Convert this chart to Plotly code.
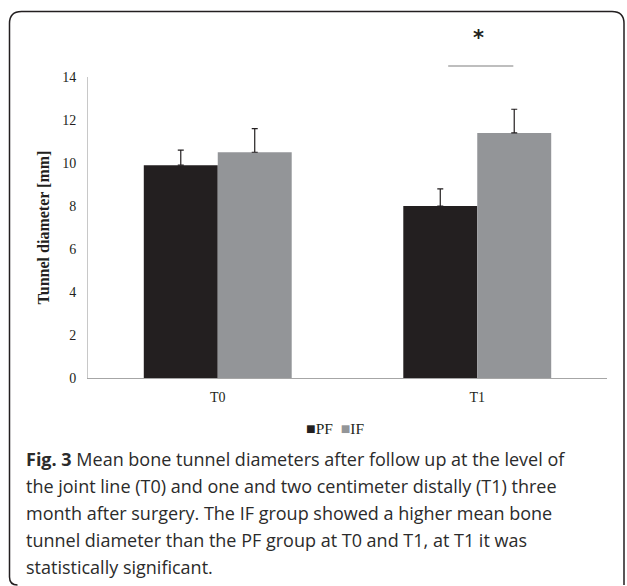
import plotly.graph_objects as go

# ---- data ----
categories = ["T0", "T1"]
series_names = ["PF", "IF"]
pf_mean = [9.9, 8.0]
pf_err = [0.7, 0.8]
if_mean = [10.5, 11.4]
if_err = [1.1, 1.1]
y_ticks = [0, 2, 4, 6, 8, 10, 12, 14]
sig_label = "*"
y_title = "Tunnel diameter [mm]"
caption_lines = [
    "<b>Fig. 3</b> Mean bone tunnel diameters after follow up at the level of",
    "the joint line (T0) and one and two centimeter distally (T1) three",
    "month after surgery. The IF group showed a higher mean bone",
    "tunnel diameter than the PF group at T0 and T1, at T1 it was",
    "statistically significant.",
]

# ---- layout geometry (pixels) ----
W, H = 627, 586
L, R, T, B = 88, 20, 77, 208
pw, ph = W - L - R, H - T - B
YMAX = 14


def px(x):
    return (x - L) / pw


def py(y):
    return (H - B - y) / ph


serif = "Liberation Serif, Times New Roman, serif"
dark = "#231f20"
grey = "#939598"
colors = [dark, grey]

fig = go.Figure()
for name, vals, errs, col in zip(series_names, [pf_mean, if_mean], [pf_err, if_err], colors):
    fig.add_trace(go.Bar(
        x=categories, y=vals, name=name,
        marker=dict(color=col, line=dict(width=0)),
        error_y=dict(type="data", symmetric=False, array=errs,
                     arrayminus=[0] * len(errs), color=dark, thickness=1.2, width=3),
    ))

fig.update_layout(
    width=W, height=H,
    margin=dict(l=L, r=R, t=T, b=B, pad=0),
    paper_bgcolor="white", plot_bgcolor="white",
    barmode="group", bargap=0.43, bargroupgap=0,
    font=dict(family=serif, size=14, color=dark),
    showlegend=False,
    xaxis=dict(showline=True, linecolor="#a6a6a6", linewidth=1, showgrid=False,
               ticks="", ticklabelstandoff=6, zeroline=False,
               tickfont=dict(family=serif, size=14, color=dark)),
    yaxis=dict(range=[0, YMAX], tickvals=y_ticks, showline=True, linecolor="#c8c8c8",
               linewidth=1, showgrid=False, ticks="", ticklabelstandoff=8,
               zeroline=False,
               tickfont=dict(family=serif, size=14, color=dark),
               title=dict(text=f"<b>{y_title}</b>", standoff=8,
                          font=dict(family=serif, size=16, color=dark))),
)

# significance bar (category-axis positions) and asterisk
sig_y = py(66)
fig.add_shape(type="line", xref="x", yref="paper",
              x0=0.888, x1=1.139, y0=sig_y, y1=sig_y,
              line=dict(color="#a8a8a8", width=1.5))
fig.add_annotation(x=1.005, y=py(24), xref="x", yref="paper",
                   text=f"<b>{sig_label}</b>", showarrow=False,
                   font=dict(family="DejaVu Sans", size=21, color=dark))

# legend (compact, as in the reference)
legend_text = "&nbsp;&nbsp;".join(
    f"<span style='color:{c};font-size:16px'>■</span>{n}"
    for n, c in zip(series_names, colors))
fig.add_annotation(x=px(335), y=py(428), xref="paper", yref="paper",
                   text=legend_text, showarrow=False, xanchor="center", yanchor="middle",
                   font=dict(family=serif, size=15.5, color=dark))

# rounded frame
x0, x1, y0, y1 = 9.5, 624, 11.5, 585
r, rb = 12, 8
path = (f"M {px(x0 + rb)},{py(y1)} Q {px(x0)},{py(y1)} {px(x0)},{py(y1 - rb)} "
        f"L {px(x0)},{py(y0 + r)} "
        f"Q {px(x0)},{py(y0)} {px(x0 + r)},{py(y0)} "
        f"L {px(x1 - r)},{py(y0)} Q {px(x1)},{py(y0)} {px(x1)},{py(y0 + r)} "
        f"L {px(x1)},{py(y1)}")
fig.add_shape(type="path", xref="paper", yref="paper", path=path,
              line=dict(color=dark, width=1.5))

# caption
line_y = [459, 486, 513, 540, 567]
for txt, yy in zip(caption_lines, line_y):
    fig.add_annotation(x=px(24), y=py(yy), xref="paper", yref="paper",
                       xanchor="left", yanchor="middle", align="left", showarrow=False,
                       text=txt,
                       font=dict(family="Open Sans, sans-serif", size=18, color="#2b2b2b"))

fig.write_html("out.html", config={"displayModeBar": False},
               post_script="document.body.style.margin='0px';")
